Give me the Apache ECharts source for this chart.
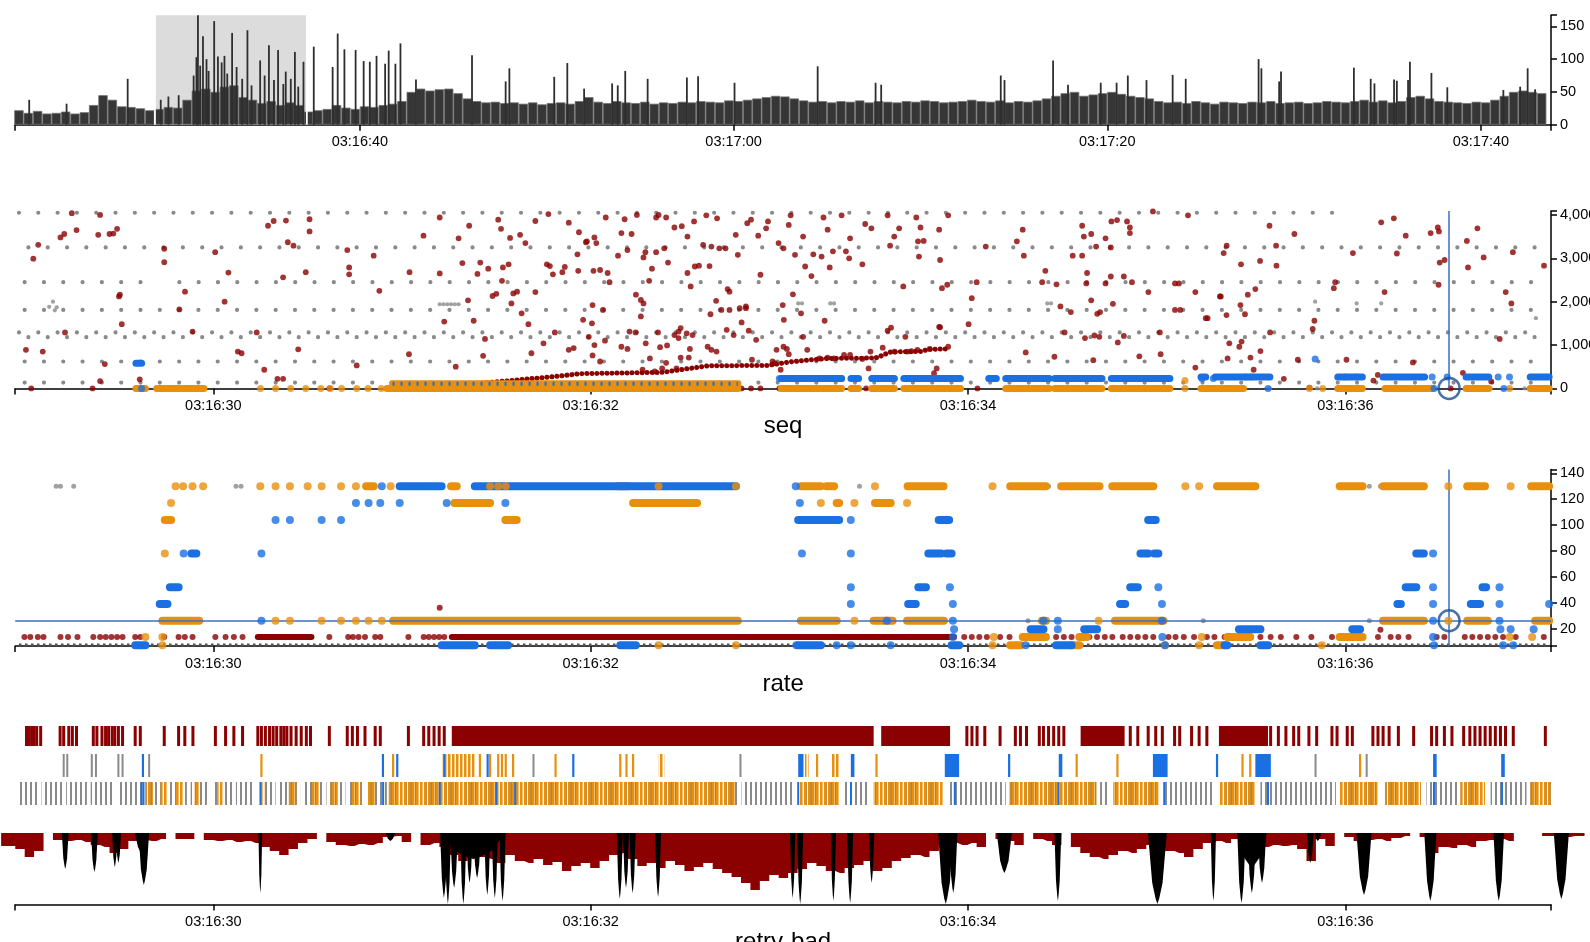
<!DOCTYPE html>
<html>
<head>
<meta charset="utf-8">
<script src="https://cdn.jsdelivr.net/npm/echarts@6/dist/echarts.min.js"></script>
<style>
html, body { margin: 0; padding: 0; background: #fff; }
#main { width: 1590px; height: 942px; }
</style>
</head>
<body>
<div id="main"></div>
<script>
// ---- data: times are seconds after 03:16:00 ----

// overview histogram, one bin every 0.5 s from 21.5 s
var histStart = 21.5, histStep = 0.5;
var histBase = [22,18,21,17,18,20,17,19,30,45,38,28,27,25,22,
  24,27,26,38,52,55,50,58,60,42,38,33,36,30,34,30,
  20,22,24,30,26,24,28,27,30,32,36,
  50,55,52,54,55,48,
  40,36,34,35,33,34,32,34,31,33,34,32,36,42,35,33,36,34,33,35,32,34,33,35,34,36,35,34,37,36,38,40,42,44,43,40,
  37,35,36,34,36,35,37,34,36,35,34,36,35,37,36,34,35,36,38,36,35,37,34,36,35,37,
  40,44,48,50,44,46,48,50,47,44,42,40,
  36,34,35,33,36,34,32,35,34,33,35,34,36,33,34,35,33,34,36,35,34,
  36,38,35,37,34,36,42,44,40,36,35,34,33,35,34,38,44,50,52,50,48];
var histSpikes = [[22.3,38],[24.3,32],[27.57,70],[29.34,38],[29.75,43],[30.3,45],[31.1,75],[31.25,103],[31.33,167],
  [31.45,90],[31.6,135],[31.79,100],[31.9,82],[32.2,158],[32.4,104],[32.6,95],[32.75,105],[32.9,78],[33.16,140],
  [33.4,88],[33.7,70],[33.98,144],[34.2,60],[34.66,98],[34.9,75],[35.13,121],[35.4,68],[35.62,114],[35.9,62],
  [36.03,81],[36.3,70],[36.52,111],[36.7,58],[36.98,96],[37.53,119],[38.54,88],[38.81,139],[39.17,115],[39.77,114],
  [40.2,97],[40.53,96],[40.89,105],[41.35,93],[41.54,113],[41.9,93],[42.17,124],[43.0,69],[46.0,106],[47.8,66],
  [48.0,86],[50.4,73],[51.1,94],[52.0,55],[53.5,63],[53.8,60],[54.2,82],[55.4,70],[57.5,72],[58.1,74],[60.05,64],
  [64.5,89],[67.6,64],[67.9,61],[74.3,75],[74.5,68],[77.1,98],[77.9,61],[79.65,64],[80.5,64],[81.1,75],[82.1,68],
  [83.5,76],[84.2,70],[88.1,100],[88.25,86],[89.2,66],[89.3,81],[93.2,87],[94.1,70],[94.3,63],[95.35,69],[95.5,67],
  [96.1,68],[96.2,96],[97.35,79],[98.2,57],[101.2,53],[102.1,58],[102.5,86],[102.9,54]];
var brushRange = [[29.03, 37.16]];

// seq panel
var seqGrayRows = [[28.97,36.02,4050],[29.02,37.02,3250],[29.0,29.62,2450],[29.82,37.05,2450],[29.0,37.05,1810],
  [28.97,37.05,1290],[29.02,37.05,1180],[29.0,37.05,620],[29.0,37.05,135]];
var seqGrayDots = [[29.15,2000],[29.17,1870],[29.16,1800],[29.13,1880],[31.20,1940],[31.22,1940],[31.24,1940],
  [31.26,1940],[31.28,1940],[31.30,1940],[33.10,1960],[33.12,1960],[33.27,1960],[33.29,1960],[34.42,1960],
  [34.44,1960],[35.84,2000],[36.06,1960],[36.19,1960],[37.01,1620],[35.60,0],[35.85,0],[36.77,0],[36.95,0]];
var seqRedDots = [[29.035,0],[29.046,2990],[29.072,3310],[29.007,890],[29.096,850],[29.19,3480],[29.21,3560],
  [29.25,4040],[29.275,3650],[29.214,1290],[29.36,0],[29.39,3540],[29.40,4000],[29.40,170],[29.45,3560],[29.47,3570],
  [29.49,3680],[29.50,2120],[29.505,2160],[29.515,1480],[29.425,560],[29.61,210],[29.74,3220],[29.74,2910],
  [29.82,1820],[29.85,2230],[29.89,1310],[30.06,2000],[30.08,2670],[30.01,3140],[30.13,850],[30.15,810],
  [30.23,1290],[30.27,430],[30.29,3750],[30.32,3860],[30.34,220],[30.37,220],[30.37,2560],[30.385,3870],
  [30.395,3370],[30.425,3290],[30.45,900],[30.49,2680],[30.51,3900],[30.51,3620],[30.615,0],[30.71,3190],
  [30.72,2790],[30.72,2630],[30.76,530],[30.85,3060],[30.88,2250],[31.037,790],[31.04,2680],[31.114,3520],
  [31.20,3940],[31.20,2650],[31.224,1540],[31.285,500],[31.30,3460],[31.32,2890],[31.35,2030],[31.356,3750],
  [31.38,1560],[31.40,2640],[31.415,2900],[31.43,750],[31.44,1140],[31.457,2760],[31.48,2130],[31.50,2180],
  [31.51,3890],[31.525,3680],[31.53,2480],[31.535,2790],[31.565,2860],[31.573,3470],[31.58,1960],[31.59,2190],
  [31.61,2230],[31.626,3540],[31.634,1730],[31.654,3350],[31.67,1480],[31.686,810],[31.707,3860],[31.707,2220],
  [31.75,1040],[31.768,2860],[31.776,4020],[31.784,2820],[31.80,2630],[31.81,1290],[31.85,2680],[31.863,2800],
  [31.884,3820],[31.884,890],[31.91,930],[31.93,3090],[31.934,2710],[31.938,3600],[31.975,3370],
  [31.98,3390],[32.02,3480],[32.03,3350],[32.08,3940],[32.015,2710],[32.05,2730],[32.09,2660],[32.10,2450],
  [31.96,1580],[32.007,1500],[32.01,1920],[32.065,1810],[31.99,1190],[32.02,1000],[32.076,1100],[32.01,760],
  [32.05,620],[32.145,3060],[32.163,3580],[32.18,3900],[32.195,3190],[32.217,3560],[32.245,4000],[32.24,2160],
  [32.266,2040],[32.28,1960],[32.266,1660],[32.28,3020],[32.29,3140],[32.31,2480],[32.325,2760],[32.347,3940],
  [32.347,3140],[32.36,4000],[32.39,3230],[32.40,3940],[32.41,2900],[32.444,3710],[32.483,3740],[32.513,3500],
  [32.513,2660],[32.53,2350],[32.552,2810],[32.574,2830],[32.548,3850],[32.596,3310],[32.613,3990],[32.63,2820],
  [32.64,3270],[32.67,3920],[32.682,3230],[32.715,3230],[32.726,2290],[32.736,2230],[32.78,3080],[32.769,3540],
  [32.83,3810],[32.85,3890],[32.888,3520],[32.90,2620],[32.94,3850],[32.93,3690],[32.996,3350],[33.022,3230],
  [33.05,3770],[33.06,3990],[33.072,2170],[33.083,3080],[33.126,3500],[33.137,2810],[33.17,2590],[33.18,3090],
  [33.224,3040],[33.234,3940],[33.256,3660],[33.267,2790],[33.284,3160],[33.33,3990],[33.353,3160],[33.37,3000],
  [33.375,3460],[33.44,2860],[33.455,3790],[33.488,3690],[33.574,3990],[33.587,3290],[33.609,3500],[33.635,3690],
  [33.657,2350],[33.726,3940],[33.735,3390],[33.74,3040],[33.748,3710],[33.765,3400],[33.847,3660],[33.852,2960],
  [33.862,2310],[33.89,2390],[33.895,3990],[33.852,1410],[34.003,1480],[34.02,2080],[34.046,2450],[34.094,3270],
  [34.259,3390],[34.29,3660],[34.296,3060],[34.41,2710],[34.393,2450],[34.469,2400],[34.49,1890],[34.512,1290],
  [34.306,830],[34.458,730],[34.614,3500],[34.605,3750],[34.653,3560],[34.679,3270],[34.729,3460],[34.757,3250],
  [34.76,3850],[34.79,3880],[34.843,3850],[34.858,3710],[34.858,3580],[34.605,3060],[34.631,2660],[34.757,2580],
  [34.826,2580],[34.869,2450],[34.627,2420],[34.729,2420],[34.653,2030],[34.685,1720],[34.70,1760],[34.768,1950],
  [34.956,2220],[35.097,2420],[35.118,2420],[35.097,1810],[35.125,1810],[35.205,2220],[35.27,1620],[34.98,4080],
  [35.166,3990],[35.335,2120],[34.62,1160],[34.696,1190],[34.794,1060],[34.826,1210],[35.017,1290],[35.021,790],
  [34.908,740],[34.664,650],[35.205,480],[34.67,1220],[34.545,1760],[34.555,3060],
  [32.466,1310],[32.444,1230],[32.477,1390],[32.509,1270],[32.54,1230],[32.368,950],[32.405,990],[32.466,1160],
  [32.526,910],[32.62,960],[32.64,890],[32.667,850],[32.721,1350],[32.758,1230],[32.80,1520],[32.823,1890],
  [32.838,1330],[32.877,1120],[32.964,620],[32.975,580],[33.007,430],[33.022,960],[33.04,910],[33.05,790],
  [33.126,1190],[33.148,890],[33.213,690],[33.24,1560],[33.256,710],[33.29,690],[33.343,770],[33.375,770],
  [33.44,680],[33.473,460],[33.483,850],[33.548,940],[33.574,1330],[33.592,1400],[33.61,850],[33.668,1190],
  [33.678,850],[33.70,860],[33.732,890],[33.797,910],[33.834,460],[33.82,350],[33.847,1420],[33.895,960],
  [32.206,1310],[32.238,1290],[32.357,1290],[32.163,960],[32.195,910],[32.292,1040],[32.314,690],[32.34,390],
  [32.379,460],[32.40,590],[32.477,710],[32.52,710],[32.635,1710],[32.665,2020],[32.693,1810],[32.736,1810],
  [32.79,1850],[32.823,1850],[32.855,660],[33.115,1730],[33.018,1920],[33.024,1580],[32.985,890],[32.455,460],
  [32.275,430],[32.80,0],[32.85,0],[32.90,0],[33.0,0],[33.33,0],[33.46,0],[33.9,0],[34.05,0],[34.5,0],[35.0,0],
  [35.26,1620],[35.34,2120],[35.37,1690],[35.355,3120],[35.371,3290],[35.385,1040],[35.376,690],[35.438,960],
  [35.444,1920],[35.45,1080],[35.447,2860],[35.468,1710],[35.483,2160],[35.497,710],[35.514,430],[35.523,2290],
  [35.548,2940],[35.55,860],[35.598,3750],[35.601,1290],[35.633,3290],[35.635,2830],[35.674,220],[35.73,3560],
  [35.748,660],[35.81,20],[35.827,1370],[35.836,1560],[35.939,2310],[35.946,2450],[36.006,660],[36.04,3120],
  [36.149,180],[36.172,310],[36.19,3830],[36.208,2220],[36.257,3920],[36.273,3110],[36.32,3520],[36.358,600],
  [36.452,3580],[36.49,3710],[36.494,2390],[36.496,3620],[36.50,2900],[36.526,2960],[36.558,0],[36.623,360],
  [36.644,3400],[36.65,2790],[36.70,3690],[36.733,3020],[36.818,1140],[36.85,2220],[36.88,1960],[36.888,3140],
  [37.053,2830],[36.773,160]];
var seqRedTrail = [[31.0,60],[31.42,120],[31.6,190],[31.75,250],[31.95,340],[32.38,370],[32.62,520],[32.94,530],
  [33.07,620],[33.25,690],[33.51,700],[33.59,840],[33.75,850],[33.79,900],[33.90,910]];
var seqOrangeRuns = [[29.59,29.64,0],[29.70,29.95,0],[30.92,32.78,0],[30.95,32.78,110],[33.01,33.33,0],[33.38,33.42,0],
  [33.49,33.61,0],[33.66,33.96,0],[34.20,34.43,0],[34.46,34.71,0],[34.76,35.07,0],[35.235,35.46,0],[35.96,36.09,0],
  [36.21,36.46,0],[36.64,36.76,0],[36.98,37.08,0]];
var seqOrangeDots = [[30.25,0],[30.33,0],[30.41,0],[30.49,0],[30.57,0],[30.62,0],[30.68,0],[30.76,0],[30.82,0],
  [30.89,0],[35.15,0],[35.81,0],[35.88,0],[36.87,0],[35.47,260],[35.50,260],[36.0,260],[36.06,260],[33.33,230],
  [34.43,230],[35.15,180]];
var seqBlueRuns = [[33.01,33.33,230],[33.38,33.42,230],[33.49,33.61,230],[33.66,33.96,230],[34.11,34.15,230],
  [34.20,34.43,230],[34.46,34.71,230],[34.76,35.07,230],[35.235,35.26,260],[35.31,35.60,260],[35.96,36.09,260],
  [36.20,36.42,260],[36.64,36.76,260],[36.98,37.08,260],[29.59,29.62,580]];
var seqBlueHatch = [[30.95,32.78,110]];
var seqBlueDots = [[35.24,230],[35.30,230],[36.46,260],[36.54,260],[36.81,260],[36.87,260],[35.84,680],[35.59,0],
  [36.47,0],[36.84,0],[29.62,0],[33.0,230]];

// rate panel
var rateOrangeRuns = [[29.73,29.925,26],[30.953,32.78,26],[33.114,33.304,26],[33.50,33.60,26],[33.677,33.872,26],
  [34.392,34.413,26],[34.779,35.036,26],[36.20,36.416,26],[36.646,36.755,26],[37.006,37.08,26],
  [30.81,30.85,130],[31.26,31.29,130],[32.144,32.198,130],[33.114,33.22,130],[33.25,33.29,130],[33.68,33.87,130],
  [34.224,34.413,130],[34.494,34.697,130],[34.765,34.982,130],[35.32,35.523,130],[35.97,36.091,130],
  [36.20,36.416,130],[36.646,36.74,130],[36.985,37.08,130],
  [31.278,31.467,117],[32.225,32.564,117],[33.304,33.317,117],[33.507,33.59,117],
  [29.743,29.776,104],[31.548,31.608,104],
  [34.29,34.413,13.5],[34.59,34.63,13.5],[35.374,35.496,13.5],[35.97,36.091,13.5],
  [34.224,34.278,7],[34.549,34.59,7],[35.32,35.36,7]];
var rateOrangeDots = [[29.80,130],[29.84,130],[29.89,130],[29.946,130],[30.249,130],[30.33,130],[30.406,130],
  [30.50,130],[30.574,130],[30.677,130],[30.756,130],[30.94,130],[31.467,130],[31.51,130],[31.55,130],[32.36,130],
  [32.77,130],[33.507,130],[34.13,130],[35.152,130],[35.225,130],[36.546,130],[36.876,130],
  [29.776,117],[33.22,117],[33.398,117],[33.677,117],[29.743,78],
  [30.33,26],[30.406,26],[30.574,26],[30.677,26],[30.756,26],[30.823,26],[30.893,26],[33.398,26],[34.692,26],[36.546,26],
  [29.64,13.5],[29.73,13.5],[34.137,13.5],[35.239,13.5],[36.871,13.5],[36.99,13.5],
  [29.73,7],[32.36,7],[32.77,7],[34.13,7],[35.044,7],[35.225,7],[35.875,7]];
var rateBlueRuns = [[30.988,31.21,130],[31.386,32.77,130],
  [33.10,33.317,104],[33.845,33.90,104],[34.955,34.995,104],
  [29.884,29.91,78],[33.79,33.858,78],[33.886,33.913,78],[34.914,34.955,78],[34.987,35.009,78],[36.376,36.416,78],
  [29.77,29.816,52],[33.737,33.777,52],[34.86,34.90,52],[36.32,36.376,52],[36.727,36.746,52],
  [29.716,29.757,39],[33.683,33.723,39],[34.806,34.833,39],[36.276,36.294,39],[36.665,36.714,39],
  [34.332,34.40,19.5],[34.616,34.684,19.5],[35.436,35.55,19.5],[36.037,36.078,19.5],
  [29.586,29.64,7],[31.21,31.386,7],[31.467,31.562,7],[32.157,32.239,7],[33.10,33.22,7],[33.913,33.953,7],
  [34.467,34.549,7],[35.36,35.374,7],[35.55,35.591,7]];
var rateBlueDots = [[30.893,130],[33.087,130],
  [30.756,117],[30.823,117],[30.885,117],[30.988,117],[31.237,117],[31.548,117],[33.109,117],
  [30.33,104],[30.406,104],[30.574,104],[30.677,104],[33.379,104],
  [29.843,78],[30.255,78],[33.12,78],[33.379,78],[36.465,78],
  [33.379,52],[33.904,52],[35.009,52],[36.465,52],[36.817,52],
  [33.379,39],[33.92,39],[35.028,39],[36.465,39],[36.817,39],[37.08,39],
  [30.255,26],[33.57,26],[33.92,26],[34.40,26],[34.476,26],[35.028,26],[36.465,26],[36.817,26],
  [33.926,19.5],[34.476,19.5],[36.822,19.5],[36.876,19.5],[36.998,19.5],
  [36.465,13.5],[33.92,13.5],[35.03,13.5],
  [33.09,7],[33.304,7],[33.59,7],[34.305,7],[35.044,7],[36.47,7],[36.836,7],[36.89,7],[33.379,7]];
var rateGrayDots = [[29.167,130],[29.19,130],[29.26,130],[30.12,130],[30.147,130],[31.03,130],[31.06,130],[31.09,130],
  [31.12,130],[31.15,130],[33.29,130],[33.425,130],[34.427,130],[35.469,130],[36.127,130],[36.186,130],
  [34.318,26],[35.247,26],[36.127,26]];
var rateFloorRow = [[28.97,37.08,7.3]];
var rateRedRuns = [[30.236,30.52,13.5],[31.264,33.926,13.5]];
var rateRedDots = [[28.999,13.5],[29.03,13.5],[29.07,13.5],[29.10,13.5],[29.19,13.5],[29.23,13.5],[29.28,13.5],
  [29.364,13.5],[29.40,13.5],[29.43,13.5],[29.46,13.5],[29.49,13.5],[29.519,13.5],[29.586,13.5],[29.613,13.5],
  [29.74,13.5],[29.816,13.5],[29.849,13.5],[29.89,13.5],[30.011,13.5],[30.065,13.5],[30.109,13.5],[30.155,13.5],
  [30.615,13.5],[30.715,13.5],[30.74,13.5],[30.77,13.5],[30.804,13.5],[30.858,13.5],[30.885,13.5],[31.034,13.5],
  [31.115,13.5],[31.142,13.5],[31.17,13.5],[31.197,13.5],[31.224,13.5],[31.20,36],
  [33.98,13.5],[34.02,13.5],[34.06,13.5],[34.10,13.5],[34.17,13.5],[34.22,13.5],[34.467,13.5],[34.508,13.5],
  [34.549,13.5],[34.59,13.5],[34.643,13.5],[34.684,13.5],[34.725,13.5],[34.765,13.5],[34.82,13.5],[34.86,13.5],
  [34.90,13.5],[34.94,13.5],[34.982,13.5],[35.063,13.5],[35.10,13.5],[35.144,13.5],[35.198,13.5],[35.266,13.5],
  [35.306,13.5],[35.36,13.5],[35.55,13.5],[35.604,13.5],[35.658,13.5],[35.74,13.5],[35.82,13.5],[35.929,13.5],
  [36.173,13.5],[36.24,13.5],[36.281,13.5],[36.335,13.5],[36.484,13.5],[36.525,13.5],[36.633,13.5],[36.673,13.5],
  [36.714,13.5],[36.755,13.5],[36.795,13.5],[36.836,13.5],[36.903,13.5],[37.052,13.5],[36.186,19]];
var cursorT = 36.55, cursorRate = 26;

// retry rows (row 0 = retries, row 1 = mixed, row 2 = all frames)
var tickRedSingles = [29.010,29.023,29.037,29.050,29.064,29.085,29.188,29.207,29.234,29.253,29.275,29.364,29.383,
  29.41,29.429,29.445,29.464,29.478,29.497,29.519,29.586,29.613,29.74,29.816,29.849,29.892,30.011,30.065,30.109,
  30.155,30.236,30.255,30.276,30.298,30.317,30.336,30.358,30.374,30.39,30.412,30.439,30.466,30.493,30.515,30.615,
  30.71,30.737,30.764,30.804,30.858,30.885,31.034,31.115,31.142,31.17,31.197,31.224,33.994,34.021,34.048,34.089,
  34.17,34.251,34.278,34.31,34.378,34.40,34.427,34.454,34.481,34.508,34.86,34.90,34.955,34.995,35.03,35.095,
  35.122,35.185,35.225,35.266,35.604,35.645,35.685,35.726,35.753,35.807,35.848,35.929,35.956,36.01,36.037,
  36.146,36.173,36.20,36.232,36.281,36.362,36.457,36.484,36.525,36.565,36.627,36.66,36.687,36.714,36.741,
  36.768,36.795,36.822,36.849,36.89,37.06];
var tickRedBlocks = [[31.264,33.50],[33.54,33.905],[34.597,34.83],[35.33,35.59]];
var tickMixGray = [29.207,29.226,29.356,29.378,29.497,29.519,29.66,31.697,32.794,35.842,36.113];
var tickMixBlue = [29.627,30.899,30.975,31.224,31.454,31.908,33.112,34.218,35.32];
var tickMixBlueBlocks = [[33.10,33.128],[33.379,33.398],[33.877,33.953],[34.481,34.50],[34.98,35.058],
  [35.523,35.605],[36.465,36.484],[36.826,36.845]];
var tickMixOrange = [30.255,30.953,31.413,31.467,31.51,31.53,31.55,31.589,31.814,32.157,32.19,32.225,33.20,
  33.515,34.576,34.792,35.455,35.496,36.078];
var tickMixOrangeBlocks = [[31.214,31.386],[32.36,32.39],[33.136,33.155],[33.277,33.317]];
var tickAllGray = [[28.96,29.07],[29.09,29.20],[29.22,29.33],[29.35,29.47],[29.49,29.62],[29.64,29.74],[29.77,29.86],
  [29.88,29.98],[30.0,30.1],[30.12,30.22],[30.24,30.33],[30.35,30.46],[30.48,30.58],[30.60,30.70],[30.72,30.80],
  [30.82,30.92],[30.93,32.78],[32.80,33.08],[33.10,33.32],[33.34,33.48],[33.50,33.87],[33.90,34.20],[34.22,34.68],
  [34.70,34.75],[34.77,35.01],[35.04,35.30],[35.33,35.52],[35.55,35.95],[35.97,36.17],[36.21,36.40],[36.43,36.60],
  [36.61,36.74],[36.77,36.96],[36.98,37.09]];
var tickAllOrange = [[29.64,29.68],[29.72,29.76],[29.80,29.84],[29.90,29.93],[30.02,30.05],[30.25,30.27],[30.40,30.44],
  [30.52,30.56],[30.62,30.66],[30.73,30.78],[30.82,30.86],[30.93,32.77],[33.10,33.32],[33.50,33.87],[34.22,34.68],
  [34.77,35.01],[35.33,35.52],[35.97,36.17],[36.21,36.40],[36.61,36.74],[36.98,37.09]];
var tickAllBlue = [29.62,29.63,30.25,30.9,31.2,31.5,31.6,33.10,33.38,33.93,34.48,35.04,35.59,36.47,36.83];

// retry-bad depth, one value every 0.05 s from 28.875 s
var areaStart = 28.875, areaStep = 0.05;
var areaRed = [13,13,16,24,18, null,7,8,7,9, 12,14,20,16,8, 7,8,6,null,6, 6,null,7,8,7, 9,8,10,14,18,
  22,16,10,6,null, 9,12,13,11,12, 10,4,3,9,null, 12,10,14,22,28, 20,24,26,30,22, 28,30,26,32,29,
  38,33,30,35,28, 22,20,26,33,30, 35,28,32,38,34, 30,36,40,44,50, 57,48,42,45,40, 36,30,33,38,40,
  35,32,28,38,35, 28,25,22,24,18, 12,10,12,10,14, null,6,8,12,null, 6,8,12,null,14, 20,24,26,22,18,
  20,16,12,14,18, 20,24,16,10,8, 10,6,9,10,14, 12,13,12,16,28, 6,13,null,4,8, 7,6,8,5,3,
  null,4,20,14,15, 12,14,8,7,6, 8,null,null,null,3, 3,4,3,3];
var areaBlack = [[29.215,36,0.018],[29.37,39,0.018],[29.478,34,0.014],[29.497,30,0.014],[29.632,52,0.028],
  [29.62,20,0.035],[30.25,60,0.01],[30.94,8,0.025],[31.224,65,0.02],[31.245,71,0.016],[31.278,55,0.02],
  [31.38,26,0.17],[31.327,71,0.016],[31.36,50,0.016],[31.40,45,0.02],[31.454,62,0.016],[31.494,65,0.016],
  [31.535,68,0.016],[32.157,66,0.016],[32.19,55,0.016],[32.225,60,0.016],[32.36,64,0.016],[33.074,65,0.014],
  [33.114,71,0.016],[33.29,68,0.014],[33.379,70,0.016],[33.493,50,0.014],[33.886,71,0.04],[33.926,60,0.022],
  [34.197,40,0.04],[34.481,68,0.018],[35.009,71,0.05],[35.306,68,0.014],[35.455,70,0.022],[35.51,60,0.022],
  [35.564,50,0.022],[35.51,34,0.08],[35.82,30,0.018],[35.86,8,0.018],[36.105,62,0.04],[36.457,68,0.032],
  [36.82,68,0.028],[37.152,66,0.04]];

// ---- chart ----
var FONT = 'Liberation Sans, Arial, Helvetica, sans-serif';
var RED = '#8b0000', ORANGE = '#e8900c', BLUE = '#1a6fe3', GRAY = '#8a8a8a';
var CROSS = '#3a6fc6', RING = '#1d4f95';
var ROW_TOP = [6, 34, 62], ROW_BOT = [26, 57, 85];

function clock(s) {
    var total = 16 * 60 + s;
    var m = Math.floor(total / 60);
    var sec = Math.round(total - m * 60);
    return '03:' + m + ':' + (sec < 10 ? '0' : '') + sec;
}

function stripes(color, period, w) {
    var c = document.createElement('canvas');
    c.width = period; c.height = 4;
    var g = c.getContext('2d');
    g.fillStyle = color;
    g.fillRect(0, 0, w, 4);
    return { image: c, repeat: 'repeat' };
}

function timeAxis(grid, min, max, labels, name, gap) {
    return {
        type: 'value', gridIndex: grid, min: min, max: max,
        axisLine: { show: true, onZero: false, lineStyle: { color: '#000', width: 1.5 } },
        axisTick: { show: true, length: 6, customValues: [min].concat(labels, [max]), lineStyle: { color: '#000', width: 1.5 } },
        axisLabel: { customValues: labels, formatter: clock, color: '#000', fontSize: 14.5, margin: 10, fontFamily: FONT },
        splitLine: { show: false },
        name: name, nameLocation: 'middle', nameGap: gap,
        nameTextStyle: { fontSize: 24, color: '#000', fontFamily: FONT }
    };
}

function rightAxis(grid, min, max, labels, fmt) {
    var ticks = labels.slice();
    if (ticks.indexOf(min) < 0) ticks.unshift(min);
    ticks.push(max);
    return {
        type: 'value', gridIndex: grid, position: 'right', min: min, max: max,
        axisLine: { show: true, onZero: false, lineStyle: { color: '#000', width: 1.5 } },
        axisTick: { show: true, length: 6, customValues: ticks, lineStyle: { color: '#000', width: 1.5 } },
        axisLabel: { customValues: labels, formatter: fmt, color: '#000', fontSize: 14.5, margin: 9, fontFamily: FONT },
        splitLine: { show: false }
    };
}

function runs(axis, data, color, width, dash, cap, z) {
    return {
        type: 'custom', xAxisIndex: axis, yAxisIndex: axis, data: data, clip: false, silent: true, z: z,
        renderItem: function (params, api) {
            var a = api.coord([api.value(0), api.value(2)]);
            var b = api.coord([api.value(1), api.value(2)]);
            return {
                type: 'line', shape: { x1: a[0], y1: a[1], x2: b[0], y2: b[1] },
                style: { stroke: color, lineWidth: width, lineCap: cap || 'round', lineDash: dash || null }
            };
        }
    };
}

function dots(axis, data, color, size, z) {
    return {
        type: 'scatter', xAxisIndex: axis, yAxisIndex: axis, data: data, symbolSize: size,
        itemStyle: { color: color }, clip: false, silent: true, z: z
    };
}

function rowTicks(data, row, fill, minW, z) {
    return {
        type: 'custom', xAxisIndex: 3, yAxisIndex: 3, data: data, clip: false, silent: true, z: z,
        renderItem: function (params, api) {
            var a = api.coord([api.value(0), ROW_TOP[row]]);
            var b = api.coord([api.value(1), ROW_BOT[row]]);
            var w = b[0] - a[0], x = a[0];
            if (w < minW) { x = (a[0] + b[0]) / 2 - minW / 2; w = minW; }
            return { type: 'rect', shape: { x: x, y: a[1], width: w, height: b[1] - a[1] }, style: { fill: fill } };
        }
    };
}

function pairs(list) {
    return list.map(function (t) { return [t, t]; });
}

var dom = document.getElementById('main');
var myChart = echarts.init(dom);

var series = [];

// overview
series.push({
    type: 'custom', xAxisIndex: 0, yAxisIndex: 0, data: brushRange, clip: false, silent: true, z: 1,
    renderItem: function (params, api) {
        var a = api.coord([api.value(0), 167]);
        var b = api.coord([api.value(1), 0]);
        return { type: 'rect', shape: { x: a[0], y: a[1], width: b[0] - a[0], height: b[1] - a[1] }, style: { fill: '#dcdcdc' } };
    }
});
series.push({
    type: 'bar', xAxisIndex: 0, yAxisIndex: 0, barWidth: 9.4, silent: true, z: 2,
    data: histBase.map(function (v, i) { return [histStart + histStep * (i + 0.5), v]; }),
    itemStyle: { color: '#363636', borderColor: '#707070', borderWidth: 0.8 }
});
series.push({
    type: 'custom', xAxisIndex: 0, yAxisIndex: 0, data: histSpikes, clip: false, silent: true, z: 3,
    renderItem: function (params, api) {
        var a = api.coord([api.value(0), api.value(1)]);
        var b = api.coord([api.value(0), 0]);
        return { type: 'rect', shape: { x: a[0] - 0.9, y: a[1], width: 1.8, height: b[1] - a[1] }, style: { fill: '#2e2e2e' } };
    }
});
series.push({
    type: 'custom', xAxisIndex: 0, yAxisIndex: 0, data: brushRange, clip: false, silent: true, z: 4,
    renderItem: function (params, api) {
        var a = api.coord([api.value(0), 167]);
        var b = api.coord([api.value(1), 0]);
        return { type: 'group', children: [
            { type: 'line', shape: { x1: a[0], y1: a[1], x2: a[0], y2: b[1] }, style: { stroke: '#fff', lineWidth: 1.8 } },
            { type: 'line', shape: { x1: b[0], y1: a[1], x2: b[0], y2: b[1] }, style: { stroke: '#fff', lineWidth: 1.8 } }
        ] };
    }
});

// seq
series.push(runs(1, seqGrayRows, GRAY, 4.2, [0.01, 19.3], 'round', 2));
series.push(dots(1, seqGrayDots, GRAY, 4.2, 2));
series.push({
    type: 'line', xAxisIndex: 1, yAxisIndex: 1, data: seqRedTrail, symbol: 'none', silent: true, z: 3,
    lineStyle: { color: RED, width: 5, type: [0.01, 5], cap: 'round' }
});
series.push(dots(1, seqRedDots, RED, 5.8, 4));
series.push(runs(1, seqOrangeRuns, ORANGE, 7, null, 'round', 5));
series.push(dots(1, seqOrangeDots, ORANGE, 7, 5));
series.push(runs(1, seqBlueRuns, BLUE, 7, null, 'round', 6));
series.push(runs(1, seqBlueHatch, BLUE, 4, [2, 6], 'butt', 6));
series.push(dots(1, seqBlueDots, BLUE, 7, 6));
series.push({
    type: 'scatter', xAxisIndex: 1, yAxisIndex: 1, data: [[cursorT, 0]], symbolSize: 21, clip: false, silent: true, z: 8,
    itemStyle: { color: 'rgba(0,0,0,0)', borderColor: RING, borderWidth: 2.5 },
    markLine: { silent: true, symbol: ['none', 'none'], label: { show: false }, animation: false,
        lineStyle: { color: CROSS, width: 1.5, type: 'solid' }, data: [{ xAxis: cursorT }] }
});

// rate
series.push(runs(2, rateFloorRow, '#505050', 3, [2.5, 3.5], 'butt', 2));
series.push(runs(2, rateRedRuns, RED, 6, null, 'round', 3));
series.push(dots(2, rateRedDots, RED, 6, 3));
series.push(dots(2, rateGrayDots, GRAY, 5, 3));
series.push(runs(2, rateOrangeRuns, ORANGE, 8, null, 'round', 4));
series.push(runs(2, rateBlueRuns, BLUE, 8, null, 'round', 5));
series.push(dots(2, rateOrangeDots, ORANGE, 8, 6));
series.push(dots(2, rateBlueDots, BLUE, 8, 6));
series.push({
    type: 'scatter', xAxisIndex: 2, yAxisIndex: 2, data: [[cursorT, cursorRate]], symbolSize: 21, clip: false, silent: true, z: 8,
    itemStyle: { color: 'rgba(0,0,0,0)', borderColor: RING, borderWidth: 2.5 },
    markLine: { silent: true, symbol: ['none', 'none'], label: { show: false }, animation: false,
        lineStyle: { color: CROSS, width: 1.5, type: 'solid' }, data: [{ xAxis: cursorT }, { yAxis: cursorRate }] }
});

// retry rows
series.push(rowTicks(pairs(tickRedSingles), 0, RED, 3, 2));
series.push(rowTicks(tickRedBlocks, 0, RED, 3, 2));
series.push(rowTicks(pairs(tickMixGray), 1, GRAY, 2, 2));
series.push(rowTicks(pairs(tickMixOrange), 1, ORANGE, 2.2, 3));
series.push(rowTicks(tickMixOrangeBlocks, 1, stripes(ORANGE, 4, 2.5), 2.2, 3));
series.push(rowTicks(pairs(tickMixBlue), 1, BLUE, 2.2, 4));
series.push(rowTicks(tickMixBlueBlocks, 1, BLUE, 2.2, 4));
series.push(rowTicks(tickAllGray, 2, stripes(GRAY, 5, 2), 2, 2));
series.push(rowTicks(tickAllOrange, 2, stripes(ORANGE, 4, 2.6), 2, 3));
series.push(rowTicks(pairs(tickAllBlue), 2, BLUE, 2, 4));

// retry-bad hanging area
series.push({
    type: 'line', xAxisIndex: 4, yAxisIndex: 4, step: 'middle', symbol: 'none', silent: true, z: 2, connectNulls: false,
    data: areaRed.map(function (v, i) { return [areaStart + areaStep * i, v]; }),
    lineStyle: { width: 0, color: RED }, areaStyle: { color: RED, opacity: 1 }
});
series.push({
    type: 'custom', xAxisIndex: 4, yAxisIndex: 4, data: areaBlack, clip: false, silent: true, z: 3,
    renderItem: function (params, api) {
        var t = api.value(0), d = api.value(1), hw = api.value(2);
        var pts = [
            api.coord([t - hw, 0]), api.coord([t - hw * 0.55, d * 0.7]), api.coord([t - hw * 0.2, d * 0.92]),
            api.coord([t, d]), api.coord([t + hw * 0.2, d * 0.92]), api.coord([t + hw * 0.55, d * 0.7]), api.coord([t + hw, 0])
        ];
        return { type: 'polygon', shape: { points: pts }, style: { fill: '#000' } };
    }
});

option = {
    backgroundColor: '#fff',
    animation: false,
    textStyle: { fontFamily: FONT },
    grid: [
        { left: 15.2, right: 39, top: 15.2, height: 109.5, outerBoundsMode: 'none' },
        { left: 15.2, right: 39, top: 211, height: 177.4, outerBoundsMode: 'none' },
        { left: 15.2, right: 39, top: 469.5, height: 176.5, outerBoundsMode: 'none' },
        { left: 15.2, right: 39, top: 720, height: 184.5, outerBoundsMode: 'none' },
        { left: 0, right: 0, top: 833, height: 71.5, outerBoundsMode: 'none' }
    ],
    xAxis: [
        timeAxis(0, 21.55, 103.75, [40, 60, 80, 100], '', 0),
        timeAxis(1, 28.95, 37.09, [30, 32, 34, 36], 'seq', 18),
        timeAxis(2, 28.95, 37.09, [30, 32, 34, 36], 'rate', 16),
        timeAxis(3, 28.95, 37.09, [30, 32, 34, 36], 'retry-bad', 21),
        { type: 'value', gridIndex: 4, min: 28.869, max: 37.304, show: false }
    ],
    yAxis: [
        rightAxis(0, 0, 167, [0, 50, 100, 150], function (v) { return String(v); }),
        rightAxis(1, 0, 4090, [0, 1000, 2000, 3000, 4000], function (v) { return v.toLocaleString('en-US'); }),
        rightAxis(2, 6.5, 143, [20, 40, 60, 80, 100, 120, 140], function (v) { return String(v); }),
        { type: 'value', gridIndex: 3, min: 0, max: 184.5, inverse: true, show: false },
        { type: 'value', gridIndex: 4, min: 0, max: 71.5, inverse: true, show: false }
    ],
    series: series
};

if (option && typeof option === "object") {
    myChart.setOption(option, true);
}
</script>
</body>
</html>
